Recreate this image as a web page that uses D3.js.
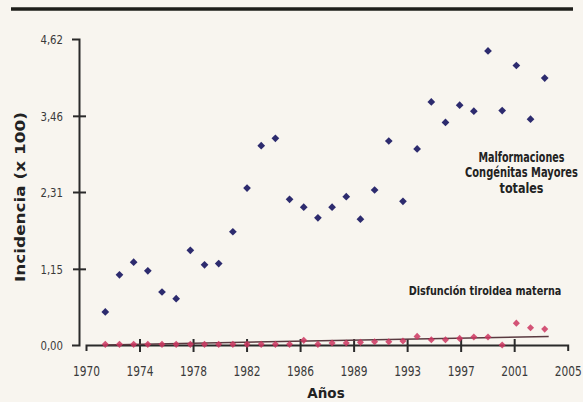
<!DOCTYPE html>
<html>
<head>
<meta charset="utf-8">
<script src="https://cdn.jsdelivr.net/npm/d3@7"></script>
<style>
  body { margin: 0; background: #f8f5ef; }
  svg { display: block; }
  .tick text { font-family: "DejaVu Sans Condensed", "DejaVu Sans", sans-serif; fill: #3a3a3a; }
</style>
</head>
<body>
<div class="chart"></div>
<script>
// Data
var years = d3.range(1972, 2004);
var malformaciones = [0.50, 1.06, 1.25, 1.12, 0.80, 0.70, 1.43, 1.21, 1.23, 1.71,
  2.37, 3.01, 3.12, 2.20, 2.08, 1.92, 2.08, 2.24, 1.90, 2.34,
  3.08, 2.17, 2.96, 3.67, 3.36, 3.62, 3.53, 4.44, 3.54, 4.22,
  3.41, 4.03];
var tiroidea = [0.01, 0.01, 0.01, 0.01, 0.01, 0.01, 0.01, 0.01, 0.01, 0.01,
  0.01, 0.01, 0.01, 0.01, 0.07, 0.01, 0.03, 0.03, 0.04, 0.05,
  0.05, 0.06, 0.13, 0.08, 0.08, 0.10, 0.12, 0.12, 0.00, 0.33,
  0.26, 0.24];
var trendYears = [1972, 2003];
var trendValues = [0.0, 0.13];
var yTicks = [0, 1.15, 2.31, 3.46, 4.62];
var xTickLabels = ["1970", "1974", "1978", "1982", "1986", "1989", "1993", "1997", "2001", "2005"];

var svgWidth = 583;
var svgHeight = 402;

var svg = d3.select(".chart")
  .append("svg")
  .attr("width", svgWidth)
  .attr("height", svgHeight);

// squeeze a text horizontally to a target width (keeps glyph height)
function squeeze(sel, width, cx, y) {
  sel.each(function() {
    var natural = this.getComputedTextLength();
    var sx = Math.min(1, width / natural);
    d3.select(this)
      .attr("x", 0).attr("y", 0)
      .attr("transform", "translate(" + cx + "," + y + ") scale(" + sx + ",1)");
  });
}

// top rule
svg.append("line")
  .attr("x1", 11).attr("x2", 573)
  .attr("y1", 9).attr("y2", 9)
  .attr("stroke", "#1e1e1a")
  .attr("stroke-width", 3.5);

// scales
var yScale = d3.scaleLinear().domain([0, 4.62]).range([345, 39]);
var xScale = d3.scaleLinear().domain([1972, 2003]).range([105.3, 544.7]);
var xTickScale = d3.scalePoint().domain(xTickLabels).range([86, 567.7]);

// y axis
var leftAxis = d3.axisLeft(yScale)
  .tickValues(yTicks)
  .tickSizeInner(0)
  .tickSizeOuter(7)
  .tickPadding(16)
  .tickFormat(function(d) { return d3.format(".2f")(d).replace(".", ","); });

var yAxisG = svg.append("g")
  .attr("transform", "translate(79,0)")
  .call(leftAxis);
yAxisG.select(".domain").attr("stroke", "#2a2a2a").attr("stroke-width", 2);
yAxisG.selectAll(".tick text")
  .attr("font-size", 12.5)
  .attr("dy", null)
  .call(squeeze, 22.6, -16, 4.5);
yAxisG.selectAll(".tick")
  .filter(function(d) { return d > 0 && d < 4.62; })
  .append("line")
  .attr("x1", -6).attr("x2", 7)
  .attr("stroke", "#2a2a2a")
  .attr("stroke-width", 2);

// x axis
var bottomAxis = d3.axisBottom(xTickScale)
  .tickSizeInner(0)
  .tickSizeOuter(6);

var xAxisG = svg.append("g")
  .attr("transform", "translate(0,345)")
  .call(bottomAxis);
xAxisG.select(".domain").attr("stroke", "#2a2a2a").attr("stroke-width", 2);
xAxisG.selectAll(".tick text")
  .attr("font-size", 14)
  .attr("dy", null)
  .call(squeeze, 27, 0, 31);
xAxisG.selectAll(".tick")
  .filter(function(d, i) { return i > 0 && i < xTickLabels.length - 1; })
  .append("line")
  .attr("y1", -6).attr("y2", 7)
  .attr("stroke", "#2a2a2a")
  .attr("stroke-width", 2);

// trend line for tiroidea
svg.append("line")
  .attr("x1", xScale(trendYears[0]))
  .attr("x2", xScale(trendYears[1]) + 4)
  .attr("y1", yScale(trendValues[0]))
  .attr("y2", yScale(trendValues[1]))
  .attr("stroke", "#5a3a40")
  .attr("stroke-width", 1.5);

// Malformaciones points
svg.append("g").selectAll("path")
  .data(malformaciones)
  .enter()
  .append("path")
  .attr("d", d3.symbol().type(d3.symbolDiamond2).size(38))
  .attr("transform", function(d, i) {
    return "translate(" + xScale(years[i]) + "," + yScale(d) + ")";
  })
  .attr("fill", "#2d2b6e");

// Tiroidea points
svg.append("g").selectAll("path")
  .data(tiroidea)
  .enter()
  .append("path")
  .attr("d", d3.symbol().type(d3.symbolDiamond2).size(32))
  .attr("transform", function(d, i) {
    return "translate(" + xScale(years[i]) + "," + yScale(d) + ")";
  })
  .attr("fill", "#cc3660")
  .attr("opacity", 0.85);

// axis labels
svg.append("text")
  .attr("text-anchor", "middle")
  .attr("font-family", "DejaVu Sans, sans-serif")
  .attr("font-weight", "bold")
  .attr("font-size", 13.5)
  .attr("fill", "#222")
  .text("Años")
  .call(squeeze, 40, 326, 398);

svg.append("text")
  .attr("transform", "translate(25,197) rotate(-90)")
  .attr("text-anchor", "middle")
  .attr("font-family", "DejaVu Sans, sans-serif")
  .attr("font-weight", "bold")
  .attr("font-size", 13.5)
  .attr("textLength", 170)
  .attr("lengthAdjust", "spacingAndGlyphs")
  .attr("fill", "#222")
  .text("Incidencia (x 100)");

// annotations
var annotLines = ["Malformaciones", "Congénitas Mayores", "totales"];
var annotWidths = [86, 113, 44];
svg.append("g").selectAll("text")
  .data(annotLines)
  .enter()
  .append("text")
  .attr("text-anchor", "middle")
  .attr("font-family", "DejaVu Sans Condensed, DejaVu Sans, sans-serif")
  .attr("font-weight", "bold")
  .attr("font-size", 14)
  .attr("fill", "#222")
  .text(function(d) { return d; })
  .each(function(d, i) {
    d3.select(this).call(squeeze, annotWidths[i], 521.5, 161.5 + i * 15.8);
  });

svg.append("text")
  .attr("text-anchor", "middle")
  .attr("font-family", "DejaVu Sans Condensed, DejaVu Sans, sans-serif")
  .attr("font-weight", "bold")
  .attr("font-size", 11.5)
  .attr("fill", "#222")
  .text("Disfunción tiroidea materna")
  .call(squeeze, 153, 485, 295);
</script>
</body>
</html>
